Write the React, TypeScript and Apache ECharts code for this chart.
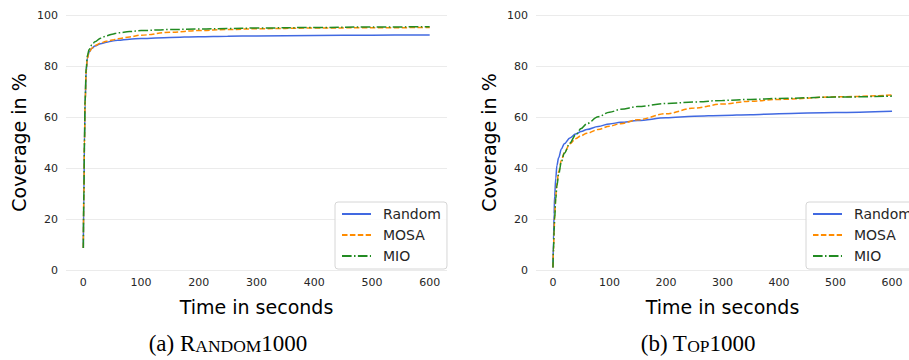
import React, { useEffect, useRef } from "react";
import * as echarts from "echarts";

// Left panel: RANDOM1000
const timesA = [0, 1, 2, 3, 5, 7, 10, 15, 20, 30, 40, 50, 60, 80, 100, 150, 200, 250, 300, 400, 500, 600];
const randomA = [8.6, 30, 50, 65, 78, 83, 85.5, 87, 87.8, 88.7, 89.3, 89.8, 90.1, 90.5, 90.8, 91.2, 91.5, 91.7, 91.8, 92.0, 92.1, 92.2];
const mosaA = [8.6, 30, 50, 65, 78, 83, 85.5, 87, 88, 89, 89.7, 90.2, 90.7, 91.4, 92.1, 93.2, 93.9, 94.3, 94.6, 94.9, 95.0, 95.1];
const mioA = [8.6, 31, 51, 66, 79, 84, 86.5, 88.3, 89.5, 90.9, 91.8, 92.5, 93.0, 93.5, 93.9, 94.3, 94.5, 94.7, 94.9, 95.1, 95.3, 95.4];

// Right panel: TOP1000
const timesB = [0, 1, 2, 3, 5, 7, 10, 15, 20, 30, 40, 50, 60, 80, 100, 120, 150, 200, 250, 300, 350, 400, 500, 600];
const randomB = [1, 12, 22, 29, 36, 41, 44, 47.5, 49.5, 51.8, 53.3, 54.3, 55.1, 56.3, 57.3, 57.9, 58.6, 59.7, 60.3, 60.6, 60.9, 61.3, 61.8, 62.3];
const mosaB = [1, 8, 15, 21, 29, 34, 38.5, 43, 46, 49.5, 51.5, 52.7, 53.6, 55.1, 56.4, 57.4, 58.9, 61.3, 63.5, 65.1, 66.2, 66.9, 67.9, 68.6];
const mioB = [1, 8, 15, 20, 28, 33, 37.5, 42.5, 45.8, 49.8, 53, 55.5, 57.4, 60.1, 61.9, 63.0, 64.1, 65.3, 65.9, 66.5, 66.9, 67.3, 67.8, 68.2];

const seriesNames = ["Random", "MOSA", "MIO"];
const xTicks = [0, 100, 200, 300, 400, 500, 600];

const colors = ["#4169e1", "#ff8c00", "#228b22"];
const dashTypes: any[] = ["solid", [5.5, 2.4], [9.6, 2.4, 1.5, 2.4]];

const pairs = (t: number[], v: number[]) => t.map((x, i) => [x, v[i]]);

export default function App() {
  const ref = useRef<HTMLDivElement>(null);
  useEffect(() => {
    if (!ref.current) return;
    const chart = echarts.init(ref.current, undefined, { renderer: "svg" });
    const font = "DejaVu Sans";
    const grids = [
      { left: 66, top: 15, width: 381, height: 255 },
      { left: 536, top: 15, width: 381, height: 255 },
    ];
    const mkX = (i: number) => ({
      type: "value",
      gridIndex: i,
      min: -30,
      max: 630,
      axisLine: { show: false },
      axisTick: { show: false },
      splitLine: { show: false },
      axisLabel: {
        customValues: xTicks,
        fontFamily: font,
        fontSize: 11,
        color: "#262626",
        margin: 7,
      },
      name: "Time in seconds",
      nameLocation: "middle",
      nameGap: 27,
      nameTextStyle: { fontFamily: font, fontSize: 19, color: "#000" },
    });
    const mkY = (i: number) => ({
      type: "value",
      gridIndex: i,
      min: 0,
      max: 100,
      interval: 20,
      axisLine: { show: false },
      axisTick: { show: false },
      splitLine: { show: true, lineStyle: { color: "#ebebeb", width: 1 } },
      axisLabel: { fontFamily: font, fontSize: 11, color: "#262626", margin: 8 },
      name: "Coverage in %",
      nameLocation: "middle",
      nameGap: 38,
      nameTextStyle: { fontFamily: font, fontSize: 19, color: "#000" },
    });
    const dataA = [randomA, mosaA, mioA];
    const dataB = [randomB, mosaB, mioB];
    const series: any[] = [];
    [0, 1].forEach((g) => {
      seriesNames.forEach((name, k) => {
        series.push({
          type: "line",
          name,
          xAxisIndex: g,
          yAxisIndex: g,
          data: g === 0 ? pairs(timesA, dataA[k]) : pairs(timesB, dataB[k]),
          symbol: "none",
          smooth: 0.35,
          smoothMonotone: "x",
          lineStyle: { color: colors[k], width: 1.5, type: dashTypes[k] },
          itemStyle: { color: colors[k] },
          z: 3 + k,
        });
      });
    });
    const mkLegend = (left: number) => ({
      orient: "vertical",
      left,
      top: 202,
      data: seriesNames,
      itemWidth: 29,
      itemHeight: 14,
      itemGap: 7,
      padding: [5, 6, 6, 6],
      backgroundColor: "rgba(255,255,255,0.85)",
      borderColor: "#d6d6d6",
      borderWidth: 1,
      borderRadius: 3,
      itemStyle: { opacity: 0 },
      textStyle: { fontFamily: font, fontSize: 14, color: "#262626", padding: [0, 0, 0, 7] },
    });
    const rich = {
      n: { fontFamily: "Liberation Serif", fontSize: 23, fill: "#000", verticalAlign: "bottom" },
      s: { fontFamily: "Liberation Serif", fontSize: 17.5, fill: "#000", verticalAlign: "bottom" },
    };
    chart.setOption({
      animation: false,
      backgroundColor: "#fff",
      grid: grids,
      xAxis: [mkX(0), mkX(1)],
      yAxis: [mkY(0), mkY(1)],
      legend: [mkLegend(335), mkLegend(806)],
      series,
      graphic: [
        {
          type: "text",
          x: 228,
          y: 343,
          style: {
            text: "{n|(a) R}{s|ANDOM}{n|1000}",
            align: "center",
            verticalAlign: "middle",
            rich,
          },
        },
        {
          type: "text",
          x: 698,
          y: 343,
          style: {
            text: "{n|(b) T}{s|OP}{n|1000}",
            align: "center",
            verticalAlign: "middle",
            rich,
          },
        },
      ],
    });
    return () => chart.dispose();
  }, []);
  return (
    <div
      ref={ref}
      style={{ position: "fixed", left: 0, top: 0, width: 909, height: 360, background: "#fff" }}
    />
  );
}
